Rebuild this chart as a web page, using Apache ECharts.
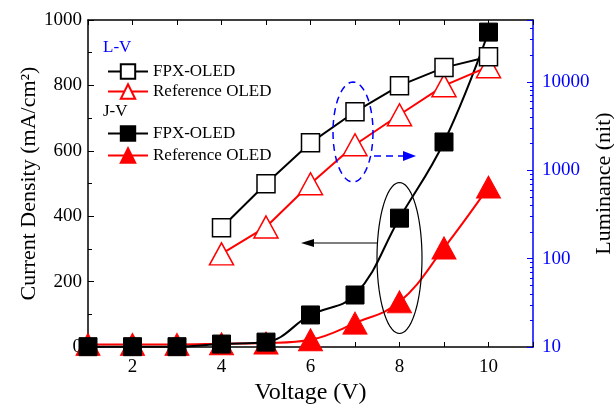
<!DOCTYPE html>
<html>
<head>
<meta charset="utf-8">
<script src="https://cdn.jsdelivr.net/npm/echarts@6/dist/echarts.min.js"></script>
<style>
  html, body { margin: 0; padding: 0; background: #fff; }
  #chart { width: 614px; height: 407px; }
</style>
</head>
<body>
<div id="chart"></div>
<script>
const voltage = [1, 2, 3, 4, 5, 6, 7, 8, 9, 10];
const jFpx = [1, 1, 1, 9, 15, 98, 159, 394, 627, 963];
const jRef = [8, 8, 8, 10, 12, 22, 73, 138, 303, 489];
const lVoltage = [4, 5, 6, 7, 8, 9, 10];
const lFpx = [223, 702, 2040, 4580, 9040, 14470, 19200];
const lRef = [113, 228, 702, 1940, 4240, 9040, 14830];
const lumTicks = [10, 100, 1000, 10000];

const font = 'Liberation Serif';
const blue = '#0000ff';
const red = '#ff0000';

const pairs = (xs, ys) => xs.map((x, i) => [x, ys[i]]);

// annotation ellipses (pixel space)
const ellipse = (cx, cy, rx, ry) => {
  const pts = [];
  for (let i = 0; i < 72; i++) {
    const a = (i / 72) * Math.PI * 2;
    pts.push([cx + rx * Math.cos(a), cy + ry * Math.sin(a)]);
  }
  return pts;
};

const chart = echarts.init(document.getElementById('chart'));

chart.setOption({
  animation: false,
  grid: { left: 88, right: 81, top: 20, bottom: 60, outerBoundsMode: 'none', containLabel: false },
  textStyle: { fontFamily: font },
  legend: [
    {
      left: 102, top: 58, orient: 'vertical', itemWidth: 40, itemHeight: 18, itemGap: 3,
      data: ['L-V FPX-OLED', 'L-V Reference OLED'],
      formatter: (n) => n.slice(4),
      textStyle: { fontFamily: font, fontSize: 17, color: '#000' }
    },
    {
      left: 102, top: 120, orient: 'vertical', itemWidth: 40, itemHeight: 18, itemGap: 5,
      data: ['J-V FPX-OLED', 'J-V Reference OLED'],
      formatter: (n) => n.slice(4),
      textStyle: { fontFamily: font, fontSize: 17, color: '#000' }
    }
  ],
  xAxis: [
    {
      type: 'value', min: 1, max: 11, interval: 1,
      name: 'Voltage (V)', nameLocation: 'middle', nameGap: 34, nameMoveOverlap: false,
      nameTextStyle: { fontFamily: font, fontSize: 24, color: '#000' },
      axisLine: { lineStyle: { color: '#000', width: 1.5 } },
      axisTick: { inside: true, length: 5, lineStyle: { color: '#000' } },
      axisLabel: {
        margin: 11, fontFamily: font, fontSize: 19, color: '#000',
        formatter: (v) => (v % 2 === 0 ? String(v) : '')
      },
      splitLine: { show: false }
    },
    {
      type: 'value', min: 1, max: 11, interval: 1, position: 'top',
      axisLine: { lineStyle: { color: '#000', width: 1.5 } },
      axisTick: { inside: true, length: 5, lineStyle: { color: '#000' } },
      axisLabel: { show: false },
      splitLine: { show: false }
    }
  ],
  yAxis: [
    {
      type: 'value', min: 0, max: 1000, interval: 200,
      name: 'Current Density (mA/cm²)', nameLocation: 'middle', nameGap: 48, nameMoveOverlap: false,
      nameTextStyle: { fontFamily: font, fontSize: 22, color: '#000' },
      axisLine: { show: true, lineStyle: { color: '#000', width: 1.5 } },
      axisTick: { inside: true, length: 6, lineStyle: { color: '#000' } },
      minorTick: { show: true, splitNumber: 2, length: 4, lineStyle: { color: '#000' } },
      axisLabel: { margin: 6, fontFamily: font, fontSize: 19, color: '#000', formatter: (v) => String(v) },
      splitLine: { show: false }
    },
    {
      type: 'log', min: 10, max: 50000, logBase: 10, position: 'right',
      name: 'Luminance (nit)', nameLocation: 'middle', nameGap: 60, nameRotate: 90, nameMoveOverlap: false,
      nameTextStyle: { fontFamily: font, fontSize: 22, color: '#000' },
      axisLine: { show: true, lineStyle: { color: blue, width: 1.5 } },
      axisTick: { inside: true, length: 6, lineStyle: { color: blue } },
      minorTick: { show: true, splitNumber: 9, length: 3, lineStyle: { color: blue } },
      axisLabel: {
        margin: 9, fontFamily: font, fontSize: 19, color: blue, showMaxLabel: false,
        formatter: (v) => (lumTicks.includes(Math.round(v)) ? String(Math.round(v)) : '')
      },
      splitLine: { show: false }
    }
  ],
  series: [
    {
      name: 'J-V Reference OLED', type: 'line', xAxisIndex: 0, yAxisIndex: 0,
      data: pairs(voltage, jRef), smooth: 0.4,
      symbol: 'triangle', symbolSize: [24, 22],
      lineStyle: { color: red, width: 2 },
      itemStyle: { color: red, borderColor: red, borderWidth: 1 }
    },
    {
      name: 'J-V FPX-OLED', type: 'line', xAxisIndex: 0, yAxisIndex: 0,
      data: pairs(voltage, jFpx), smooth: 0.4,
      symbol: 'rect', symbolSize: 18,
      lineStyle: { color: '#000', width: 2 },
      itemStyle: { color: '#000', borderColor: '#000', borderWidth: 1 }
    },
    {
      name: 'L-V Reference OLED', type: 'line', xAxisIndex: 0, yAxisIndex: 1,
      data: pairs(lVoltage, lRef),
      symbol: 'triangle', symbolSize: [24, 22],
      lineStyle: { color: red, width: 2 },
      itemStyle: { color: '#fff', borderColor: red, borderWidth: 1.5 }
    },
    {
      name: 'L-V FPX-OLED', type: 'line', xAxisIndex: 0, yAxisIndex: 1,
      data: pairs(lVoltage, lFpx),
      symbol: 'rect', symbolSize: 18,
      lineStyle: { color: '#000', width: 2 },
      itemStyle: { color: '#fff', borderColor: '#000', borderWidth: 1.5 }
    }
  ],
  graphic: [
    { type: 'text', left: 103, top: 39, style: { text: 'L-V', fill: blue, font: '17px "Liberation Serif"' } },
    { type: 'text', left: 103, top: 103, style: { text: 'J-V', fill: '#000', font: '17px "Liberation Serif"' } },
    {
      type: 'polygon', shape: { points: ellipse(353, 132, 20, 50) }, z: 10,
      style: { fill: 'none', stroke: blue, lineWidth: 1.5, lineDash: [7, 5] }
    },
    {
      type: 'line', shape: { x1: 374, y1: 156, x2: 405, y2: 156 }, z: 10,
      style: { stroke: blue, lineWidth: 1.5, lineDash: [7, 5] }
    },
    { type: 'polygon', shape: { points: [[416, 156], [403, 151], [403, 161]] }, z: 10, style: { fill: blue } },
    {
      type: 'polygon', shape: { points: ellipse(399.5, 258, 22.5, 75.5) }, z: 10,
      style: { fill: 'none', stroke: '#000', lineWidth: 1.2 }
    },
    {
      type: 'line', shape: { x1: 377, y1: 243, x2: 312, y2: 243 }, z: 10,
      style: { stroke: '#000', lineWidth: 1.2 }
    },
    { type: 'polygon', shape: { points: [[301, 243], [314, 239], [314, 247]] }, z: 10, style: { fill: '#000' } }
  ]
});
</script>
</body>
</html>
